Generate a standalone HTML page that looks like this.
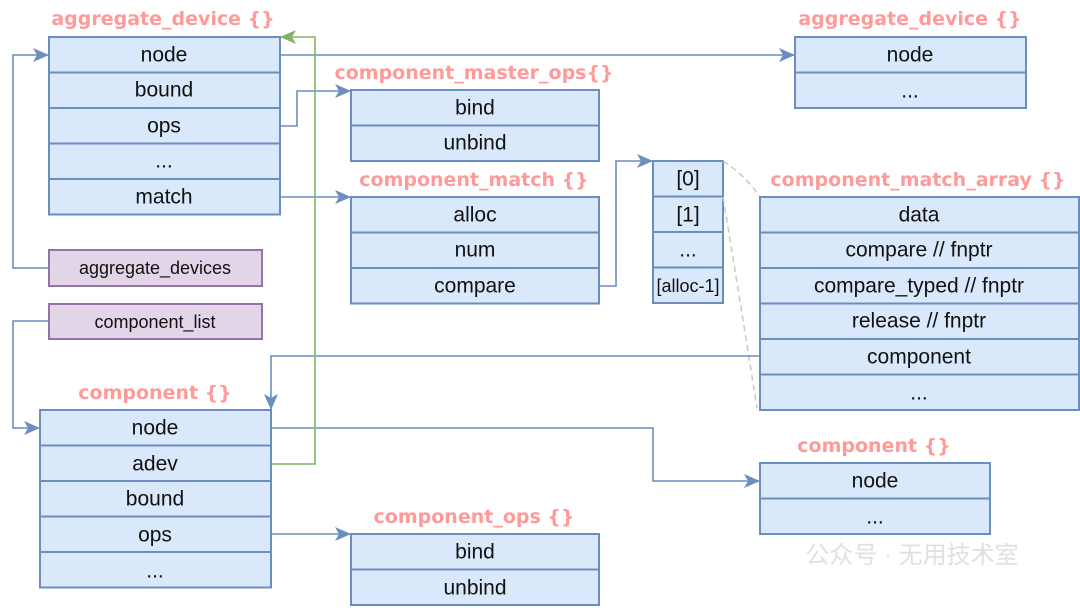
<!DOCTYPE html>
<html><head><meta charset="utf-8"><style>
html,body{margin:0;padding:0;background:#fff;}
svg text{font-family:"Liberation Sans","DejaVu Sans",sans-serif;}
.t{font-size:21px;fill:#111;text-anchor:middle;dominant-baseline:central;}
.h{font-size:19px;fill:#ff9a9a;font-weight:bold;text-anchor:middle;dominant-baseline:central;font-family:"DejaVu Sans",sans-serif !important;}
.b{fill:#dae8fc;stroke:#6c8ebf;stroke-width:2;}
.p{fill:#e1d5e7;stroke:#9673a6;stroke-width:2;}
.l{fill:none;stroke:#6c8ebf;stroke-width:1.6;}
.g{fill:none;stroke:#82b366;stroke-width:1.6;}
</style></head><body>
<svg width="1080" height="606" viewBox="0 0 1080 606" xmlns="http://www.w3.org/2000/svg">
<defs>
<marker id="a" markerWidth="16" markerHeight="14" refX="15" refY="7" orient="auto" markerUnits="userSpaceOnUse"><path d="M0,0 L16,7 L0,14 L4,7 Z" fill="#6c8ebf"/></marker>
<marker id="ag" markerWidth="16" markerHeight="14" refX="15" refY="7" orient="auto" markerUnits="userSpaceOnUse"><path d="M0,0 L16,7 L0,14 L4,7 Z" fill="#82b366"/></marker>
</defs>
<text class="h" x="163" y="19">aggregate_device {}</text>
<rect class="b" x="49" y="37" width="231" height="35.5"/><text class="t" x="164" y="55">node</text>
<rect class="b" x="49" y="72.5" width="231" height="35.5"/><text class="t" x="164" y="90">bound</text>
<rect class="b" x="49" y="108" width="231" height="35.5"/><text class="t" x="164" y="126">ops</text>
<rect class="b" x="49" y="143.5" width="231" height="35.5"/><text class="t" x="164" y="161">...</text>
<rect class="b" x="49" y="179" width="231" height="35.5"/><text class="t" x="164" y="197">match</text>
<text class="h" x="910" y="19">aggregate_device {}</text>
<rect class="b" x="795" y="37" width="231" height="35.5"/><text class="t" x="910" y="55">node</text>
<rect class="b" x="795" y="72.5" width="231" height="35.5"/><text class="t" x="910" y="91">...</text>
<text class="h" x="474" y="73">component_master_ops{}</text>
<rect class="b" x="351" y="90" width="248" height="35.5"/><text class="t" x="475" y="108">bind</text>
<rect class="b" x="351" y="125.5" width="248" height="35.5"/><text class="t" x="475" y="143">unbind</text>
<text class="h" x="474" y="180">component_match {}</text>
<rect class="b" x="351" y="197" width="248" height="35.5"/><text class="t" x="475" y="215">alloc</text>
<rect class="b" x="351" y="232.5" width="248" height="35.5"/><text class="t" x="475" y="250">num</text>
<rect class="b" x="351" y="268" width="248" height="35.5"/><text class="t" x="475" y="286">compare</text>
<rect class="b" x="653" y="161" width="70" height="35.5"/><text class="t" x="688" y="179">[0]</text>
<rect class="b" x="653" y="196.5" width="70" height="35.5"/><text class="t" x="688" y="215">[1]</text>
<rect class="b" x="653" y="232" width="70" height="35.5"/><text class="t" x="688" y="250">...</text>
<rect class="b" x="653" y="267.5" width="70" height="35.5"/><text class="t" x="688" y="286" style="font-size:18px">[alloc-1]</text>
<path d="M723,161 Q745,175 760,197" fill="none" stroke="#c8c8c8" stroke-width="1.5" stroke-dasharray="6,4"/>
<path d="M723,197 Q740,300 757,408" fill="none" stroke="#c8c8c8" stroke-width="1.5" stroke-dasharray="6,4"/>
<text class="h" x="918" y="180">component_match_array {}</text>
<rect class="b" x="760" y="197" width="319" height="35.5"/><text class="t" x="919" y="215">data</text>
<rect class="b" x="760" y="232.5" width="319" height="35.5"/><text class="t" x="919" y="250">compare // fnptr</text>
<rect class="b" x="760" y="268" width="319" height="35.5"/><text class="t" x="919" y="286">compare_typed // fnptr</text>
<rect class="b" x="760" y="303.5" width="319" height="35.5"/><text class="t" x="919" y="321">release // fnptr</text>
<rect class="b" x="760" y="339" width="319" height="35.5"/><text class="t" x="919" y="357">component</text>
<rect class="b" x="760" y="374.5" width="319" height="35.5"/><text class="t" x="919" y="393">...</text>
<rect class="p" x="49" y="250" width="213" height="36"/><text class="t" x="155" y="268" style="font-size:18px">aggregate_devices</text>
<rect class="p" x="49" y="304" width="213" height="35"/><text class="t" x="155" y="322" style="font-size:18px">component_list</text>
<text class="h" x="155" y="393">component {}</text>
<rect class="b" x="40" y="410" width="231" height="35.5"/><text class="t" x="155" y="428">node</text>
<rect class="b" x="40" y="445.5" width="231" height="35.5"/><text class="t" x="155" y="464">adev</text>
<rect class="b" x="40" y="481" width="231" height="35.5"/><text class="t" x="155" y="499">bound</text>
<rect class="b" x="40" y="516.5" width="231" height="35.5"/><text class="t" x="155" y="535">ops</text>
<rect class="b" x="40" y="552" width="231" height="35.5"/><text class="t" x="155" y="571">...</text>
<text class="h" x="874" y="446">component {}</text>
<rect class="b" x="760" y="463" width="230" height="35.5"/><text class="t" x="875" y="481">node</text>
<rect class="b" x="760" y="498.5" width="230" height="35.5"/><text class="t" x="875" y="517">...</text>
<text class="h" x="474" y="517">component_ops {}</text>
<rect class="b" x="351" y="534" width="248" height="35.5"/><text class="t" x="475" y="552">bind</text>
<rect class="b" x="351" y="569.5" width="248" height="35.5"/><text class="t" x="475" y="588">unbind</text>
<path class="l" d="M280,55 H794" marker-end="url(#a)"/>
<path class="l" d="M280,126 H297 V91 H350" marker-end="url(#a)"/>
<path class="l" d="M280,197 H350" marker-end="url(#a)"/>
<path class="l" d="M599,286 H616 V161 H652" marker-end="url(#a)"/>
<path class="l" d="M49,268 H13 V55 H48" marker-end="url(#a)"/>
<path class="l" d="M49,321 H13 V428 H39" marker-end="url(#a)"/>
<path class="l" d="M760,356 H271 V409" marker-end="url(#a)"/>
<path class="l" d="M271,428 H653 V481 H759" marker-end="url(#a)"/>
<path class="l" d="M271,534 H350" marker-end="url(#a)"/>
<path class="g" d="M271,464 H315 V37 H281" marker-end="url(#ag)"/>
<text x="912" y="563" style="font-size:24px;fill:#e0e0e0;text-anchor:middle;font-family:'Liberation Sans','Noto Sans CJK SC',sans-serif">公众号 · 无用技术室</text>
</svg>
</body></html>
